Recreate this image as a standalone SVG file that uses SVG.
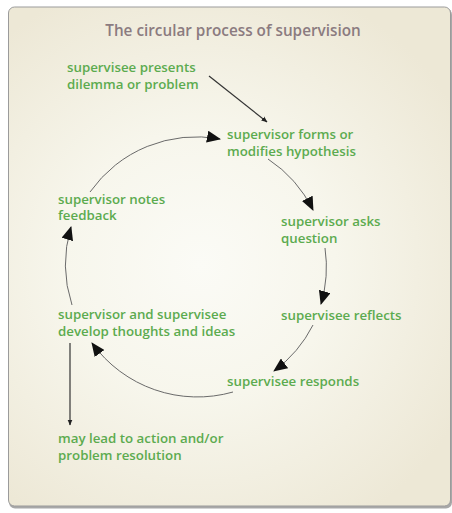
<svg xmlns="http://www.w3.org/2000/svg" width="452" height="513" viewBox="0 0 452 513">
<defs>
<radialGradient id="bg" cx="200" cy="265" r="300" gradientUnits="userSpaceOnUse">
<stop offset="0" stop-color="#fbfbf6"/>
<stop offset="0.45" stop-color="#f7f6ec"/>
<stop offset="1" stop-color="#ede8d6"/>
</radialGradient>
<marker id="big" viewBox="0 0 14 12" refX="13" refY="6" markerWidth="14" markerHeight="12" markerUnits="userSpaceOnUse" orient="auto">
<path d="M0,0 L14,6 L0,12 Z" fill="#111"/>
</marker>
<marker id="small" viewBox="0 0 6 6" refX="5.5" refY="3" markerWidth="6" markerHeight="6" markerUnits="userSpaceOnUse" orient="auto">
<path d="M0,0.5 L6,3 L0,5.5 Z" fill="#222"/>
</marker>
</defs>
<style>
.t{font-family:"Open Sans","Liberation Sans",sans-serif;font-size:13.3px;font-weight:600;fill:#5cab4f}
.title{font-family:"Open Sans","Liberation Sans",sans-serif;font-size:15.3px;font-weight:600;fill:#8b7b80}
.arc{fill:none;stroke:#6a6a6a;stroke-width:1;marker-end:url(#big)}
.ln{fill:none;stroke:#333;stroke-width:1.2;marker-end:url(#small)}
</style>
<rect x="9" y="8.5" width="443" height="500" rx="6" fill="#a8a8a8"/>
<rect x="8.5" y="7" width="442" height="499" rx="6" fill="url(#bg)" stroke="#9b9b9b" stroke-width="1"/>
<text class="title" x="233" y="36" text-anchor="middle">The circular process of supervision</text>
<g id="connectors">
<path class="ln" d="M209,76 L267,122"/>
<path class="arc" d="M90,192 A130,130 0 0 1 220,139"/>
<path class="arc" d="M268,159 A130,130 0 0 1 313,210"/>
<path class="arc" d="M325,248 A130,130 0 0 1 321,304"/>
<path class="arc" d="M313,325 A130,130 0 0 1 274,371"/>
<path class="arc" d="M233,392 A130,130 0 0 1 92,343"/>
<path class="arc" d="M72,305 A130,130 0 0 1 71,227"/>
<path class="ln" d="M70,343 L70,425"/>
</g>
<g id="presents"><text class="t" x="67" y="72">supervisee presents</text><text class="t" x="67" y="88.5">dilemma or problem</text></g>
<g id="hypothesis"><text class="t" x="227" y="139">supervisor forms or</text><text class="t" x="227" y="155.5">modifies hypothesis</text></g>
<g id="asks"><text class="t" x="281" y="226">supervisor asks</text><text class="t" x="281" y="242.5">question</text></g>
<g id="reflects"><text class="t" x="281" y="320">supervisee reflects</text></g>
<g id="responds"><text class="t" x="227" y="386">supervisee responds</text></g>
<g id="develop"><text class="t" x="58" y="319">supervisor and supervisee</text><text class="t" x="58" y="335.5">develop thoughts and ideas</text></g>
<g id="feedback"><text class="t" x="58" y="203.5">supervisor notes</text><text class="t" x="58" y="220">feedback</text></g>
<g id="action"><text class="t" x="58" y="443">may lead to action and/or</text><text class="t" x="58" y="459.5">problem resolution</text></g>
</svg>
